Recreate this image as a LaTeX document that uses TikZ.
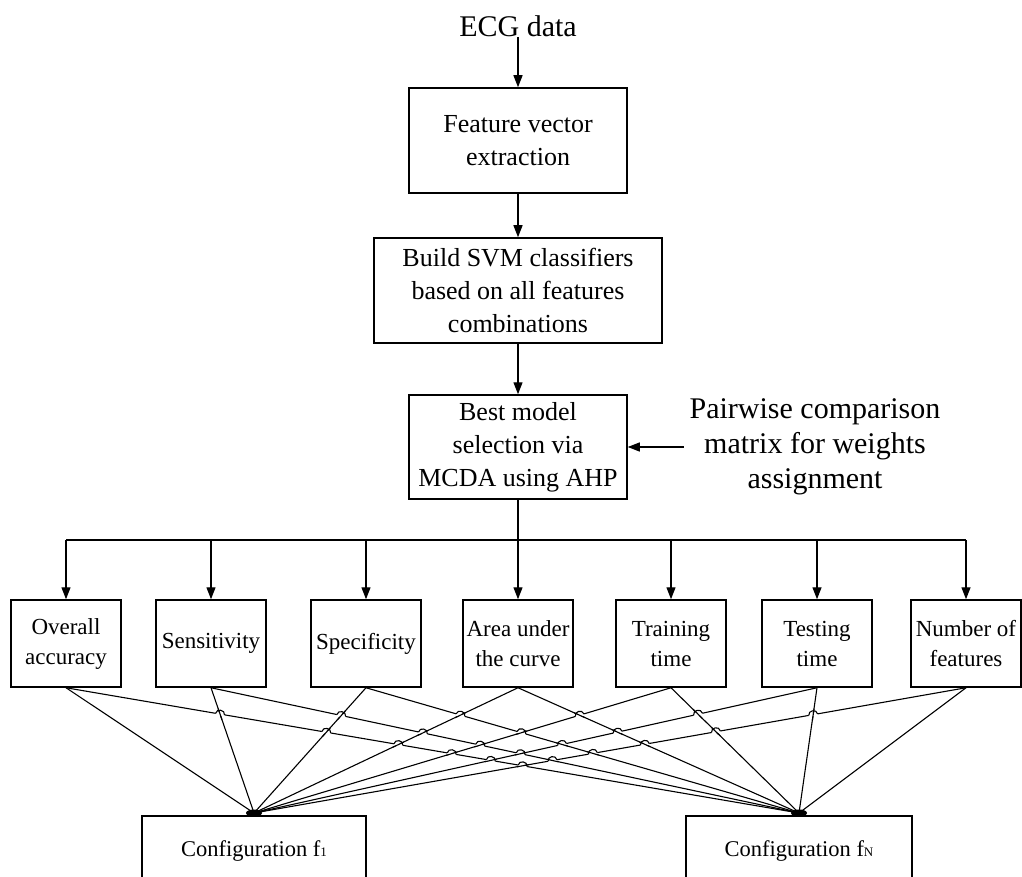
\documentclass[tikz,border=0pt]{standalone}
\usepackage{fontspec}
\setmainfont{Liberation Serif}
\usetikzlibrary{arrows.meta,calc}

\tikzset{
  box/.style={draw,line width=1.5pt,align=center,inner sep=2pt,font=\fontsize{26}{33}\selectfont},
  metric/.style={draw,line width=1.5pt,align=center,inner sep=1pt,minimum width=110pt,minimum height=87pt,font=\fontsize{23}{30}\selectfont},
  cfg/.style={draw,line width=1.5pt,minimum height=70pt,font=\fontsize{22.5}{26}\selectfont},
  arr/.style={-{Triangle[length=12pt,width=9pt]}},
  link/.style={line width=1.1pt},
}
\newcommand{\fsub}[1]{{\fontsize{13}{13}\selectfont #1}}
% hop of one line over another at their crossing
\newcommand{\linehop}[5]{%
  \draw[white,line width=3pt] ($(#1)!4.5pt!(#2)$) -- ($(#1)!4.5pt!(#3)$);
  \draw[link] ($(#1)!6pt!(#4)$) -- ($(#1)!6pt!(#5)$);
  \draw[link] ($(#1)!4.5pt!(#2)$) to[bend left=90,looseness=1.5] ($(#1)!4.5pt!(#3)$);
}
\def\xs{{66,211,366,518,671,817,966}}

\begin{document}
\begin{tikzpicture}[x=1pt,y=-1pt,line width=1.3pt]
    \useasboundingbox (0,0) rectangle (1022,877);

    \node[font=\fontsize{30}{30}\selectfont,inner sep=0pt] (ecg) at (518,26) {ECG data};
    \node[box,minimum width=218pt,minimum height=105pt] (fve) at (518,140.5) {Feature vector\\extraction};
    \node[box,minimum width=288pt,minimum height=105pt] (svm) at (518,290.5) {Build SVM classifiers\\based on all features\\combinations};
    \node[box,minimum width=218pt,minimum height=104pt] (best) at (518,447) {Best model\\selection via\\MCDA using AHP};
    \node[font=\fontsize{30}{35}\selectfont,align=center,inner sep=5pt] (pcm) at (815,447) {Pairwise comparison\\matrix for weights\\assignment};

    \draw[arr] (ecg.south) -- (fve.north);
    \draw[arr] (fve.south) -- (svm.north);
    \draw[arr] (svm.south) -- (best.north);
    \draw[arr] (pcm.west) -- (best.east);

    % criteria
    \foreach \i/\xx/\txt in {1/66/{Overall\\accuracy},2/211/Sensitivity,3/366/Specificity,
        4/518/{Area under\\the curve},5/671/{Training\\time},6/817/{Testing\\time},7/966/{Number of\\features}}
        \node[metric] (m\i) at (\xx,643.5) {\txt};

    \coordinate (bus) at (518,540);
    \draw (best.south) -- (bus);
    \draw (m1.north |- bus) -- (m7.north |- bus);
    \foreach \i in {1,...,7}
        \draw[arr] (m\i.north |- bus) -- (m\i.north);

    % configurations
    \node[cfg,minimum width=224pt] (f1) at (254,851) {Configuration f\fsub{1}};
    \node[cfg,minimum width=226pt] (fN) at (799,851) {Configuration f\fsub{N}};
    \coordinate (c1) at (254,813);
    \coordinate (cN) at (799,813);

    \foreach \i in {1,...,7}{
        \draw[link] (m\i.south) -- (c1);
        \draw[link] (m\i.south) -- (cN);
    }

    \foreach \i in {1,...,6}{
        \pgfmathtruncatemacro\k{\i+1}
        \foreach \j in {\k,...,7}{
            \coordinate (X) at (intersection of m\i.south--cN and m\j.south--c1);
            \pgfmathsetmacro\xa{\xs[\i-1]}
            \pgfmathsetmacro\xb{\xs[\j-1]}
            \pgfmathsetmacro\dA{abs(799-\xa)}
            \pgfmathsetmacro\dB{abs(\xb-254)}
            \ifdim\dA pt>\dB pt
                \linehop{X}{m\i.south}{cN}{m\j.south}{c1}
            \else
                \linehop{X}{c1}{m\j.south}{m\i.south}{cN}
            \fi
        }
    }

    \fill (c1) ellipse (8pt and 3.5pt);
    \fill (cN) ellipse (8pt and 3.5pt);
\end{tikzpicture}
\end{document}
